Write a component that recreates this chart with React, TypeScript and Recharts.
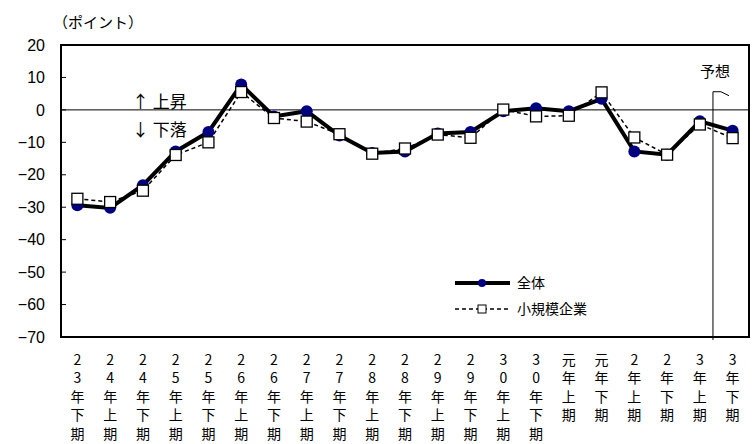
import React from "react";
import {
  LineChart,
  Line,
  XAxis,
  YAxis,
  ReferenceLine,
  ReferenceArea,
} from "recharts";

// 半期ごとの区分（縦書きで表示）
const periods = [
  "23年下期", "24年上期", "24年下期", "25年上期", "25年下期",
  "26年上期", "26年下期", "27年上期", "27年下期", "28年上期",
  "28年下期", "29年上期", "29年下期", "30年上期", "30年下期",
  "元年上期", "元年下期", "2年上期", "2年下期", "3年上期", "3年下期",
];

const overall = [
  -29.4, -30.2, -23.2, -12.8, -6.8, 7.8, -2.0, -0.4, -7.9, -13.3,
  -12.8, -7.3, -6.8, -0.4, 0.5, -0.4, 3.4, -12.8, -13.8, -3.5, -6.4,
];

const smallBiz = [
  -27.4, -28.4, -24.9, -13.9, -10.0, 5.5, -2.5, -3.6, -7.5, -13.5,
  -11.9, -7.6, -8.6, 0.1, -2.0, -1.8, 5.4, -8.5, -13.8, -4.5, -8.7,
];

const yTicks = [20, 10, 0, -10, -20, -30, -40, -50, -60, -70];

// 予想区間の境目（3年上期と3年下期の間）
const forecastAt = 19.4;

const data = periods.map((p, i) => ({
  i,
  period: p,
  overall: overall[i],
  smallBiz: smallBiz[i],
}));

const JP = "'Noto Sans CJK JP', 'Noto Sans', sans-serif";
const NUM = "'Liberation Sans', Arial, sans-serif";

function PeriodTick(props: any) {
  const { x, y, payload } = props;
  const chars = (periods[payload.value] ?? "").split("");
  return (
    <text x={x} y={y} textAnchor="middle" fontSize={14} fontFamily={JP} fill="#000">
      {chars.map((c, k) => (
        <tspan key={k} x={x} dy={k === 0 ? 28 : 18.4}>
          {c}
        </tspan>
      ))}
    </text>
  );
}

function SquareDot(props: any) {
  const { cx, cy } = props;
  if (cx == null || cy == null) return null;
  return <rect x={cx - 5.5} y={cy - 5.5} width={11} height={11} fill="#fff" stroke="#000" strokeWidth={1.3} />;
}

function ForecastMark(props: any) {
  const { x1, y1, y2 } = props;
  const top = Math.min(y1, y2);
  const bottom = Math.max(y1, y2);
  return (
    <g>
      <line x1={x1} y1={top} x2={x1} y2={bottom + 3} stroke="#000" strokeWidth={1} />
      <path d={`M${x1},${top} L${x1 + 8},${top} L${x1 + 16},${top + 4}`} fill="none" stroke="#000" strokeWidth={1} />
      <text x={x1 + 2} y={top - 15} textAnchor="middle" fontSize={15} fontFamily={JP} fill="#000">
        予想
      </text>
    </g>
  );
}

function LegendBox() {
  return (
    <svg width={190} height={48}>
      <line x1={3} y1={11} x2={58} y2={11} stroke="#000" strokeWidth={4} />
      <circle cx={30} cy={11} r={4} fill="#000080" />
      <text x={65} y={16} fontSize={14} fontFamily={JP} fill="#000">全体</text>
      <line x1={3} y1={37} x2={58} y2={37} stroke="#000" strokeWidth={1.5} strokeDasharray="4 3" />
      <rect x={26} y={33} width={8} height={8} fill="#fff" stroke="#000" strokeWidth={1} />
      <text x={65} y={42} fontSize={14} fontFamily={JP} fill="#000">小規模企業</text>
    </svg>
  );
}

export default function App() {
  return (
    <div style={{ position: "absolute", left: 0, top: 0, width: 754, height: 444, background: "#fff" }}>
      <div style={{ position: "absolute", left: 53, top: 11, fontSize: 15, fontFamily: JP, color: "#000" }}>
        （ポイント）
      </div>
      <div style={{ position: "absolute", left: 132, top: 87, fontSize: 17, fontFamily: JP, color: "#000", lineHeight: "28px" }}>
        <div>↑ 上昇</div>
        <div>↓ 下落</div>
      </div>
      <LineChart width={754} height={444} data={data} margin={{ top: 45, right: 5, left: 0, bottom: 0 }}>
        <XAxis
          dataKey="i"
          type="number"
          domain={[-0.5, 20.5]}
          ticks={periods.map((_, i) => i)}
          interval={0}
          height={107}
          tickLine={false}
          tickSize={0}
          tickMargin={0}
          axisLine={{ stroke: "#000", strokeWidth: 2 }}
          tick={<PeriodTick />}
        />
        <YAxis
          domain={[-70, 20]}
          ticks={yTicks}
          interval={0}
          width={61}
          tickSize={-5}
          tickMargin={21}
          tickLine={{ stroke: "#000", strokeWidth: 1 }}
          axisLine={{ stroke: "#000", strokeWidth: 2 }}
          tick={{ fill: "#000", fontSize: 16, fontFamily: NUM }}
          tickFormatter={(v: number) => (v < 0 ? `−${Math.abs(v)}` : String(v))}
        />
        <ReferenceArea x1={-0.5} x2={20.5} y1={-70} y2={20} fill="none" stroke="#000" strokeWidth={2} />
        <ReferenceLine y={0} stroke="#000" strokeWidth={1} />
        <ReferenceLine
          segment={[{ x: forecastAt, y: 5.6 }, { x: forecastAt, y: -70 }]}
          ifOverflow="visible"
          shape={<ForecastMark />}
        />
        <Line
          dataKey="overall"
          name="全体"
          stroke="#000"
          strokeWidth={4}
          dot={{ r: 6, fill: "#000080", stroke: "none" }}
          activeDot={false}
          isAnimationActive={false}
        />
        <Line
          dataKey="smallBiz"
          name="小規模企業"
          stroke="#000"
          strokeWidth={1.5}
          strokeDasharray="4 3"
          dot={<SquareDot />}
          activeDot={false}
          isAnimationActive={false}
        />
      </LineChart>
      <div style={{ position: "absolute", left: 452, top: 272 }}>
        <LegendBox />
      </div>
    </div>
  );
}
